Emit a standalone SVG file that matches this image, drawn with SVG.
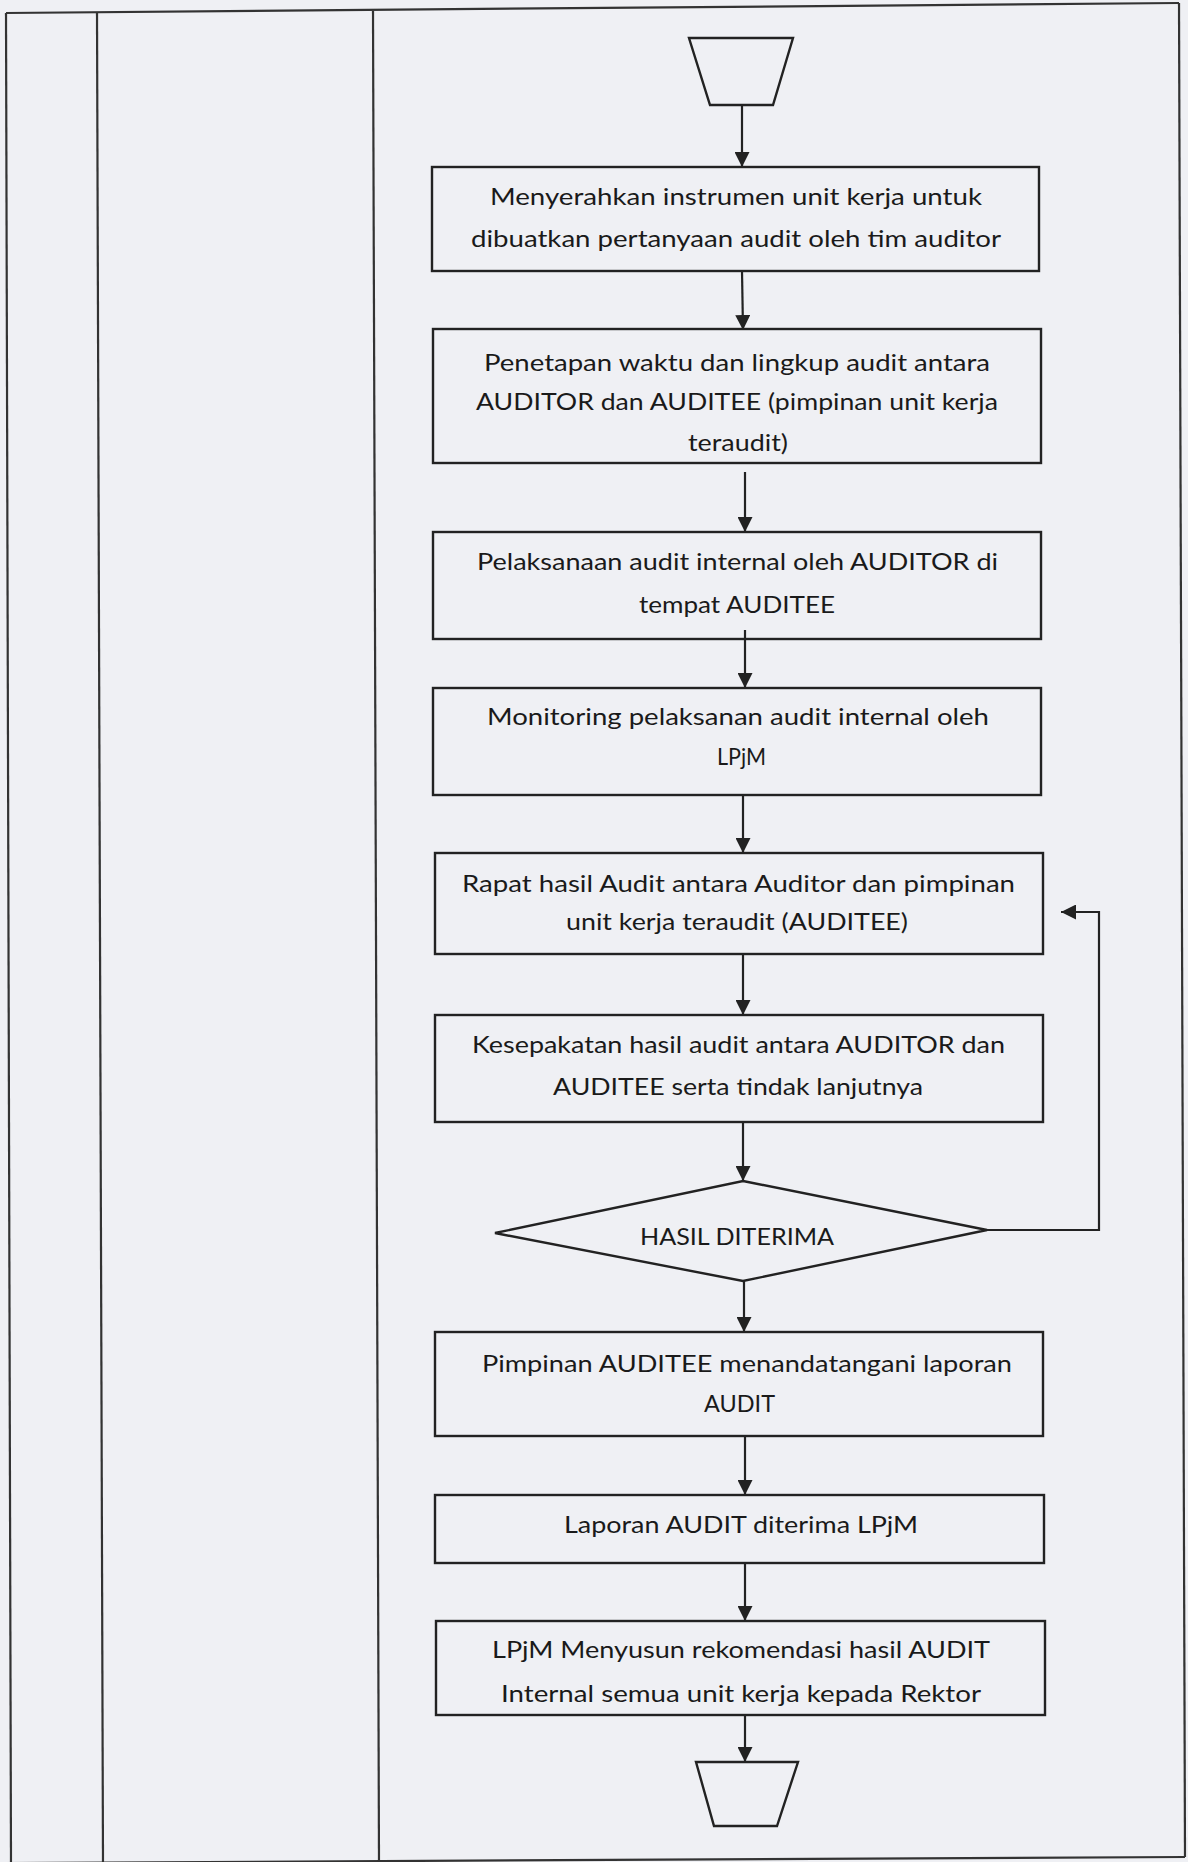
<svg xmlns="http://www.w3.org/2000/svg" width="1188" height="1862" viewBox="0 0 1188 1862">
<defs>
<style>
.bg{fill:#eff0f4}
.frame{stroke:#333;stroke-width:2.2;fill:none}
.box{fill:none;stroke:#222;stroke-width:2.4}
.conn{stroke:#222;stroke-width:2.2;fill:none}
.t{font-family:Lato,"Open Sans","Liberation Sans",sans-serif;font-size:24px;fill:#1a1a1a}
</style>
<marker id="ah" markerUnits="userSpaceOnUse" markerWidth="16" markerHeight="15" refX="15" refY="7.5" orient="auto">
<path d="M0,0 L15,7.5 L0,15 Z" fill="#222"/>
</marker>
</defs>
<rect class="bg" x="0" y="0" width="1188" height="1862"/>
<g id="frame">
<line class="frame" x1="6" y1="13" x2="1179" y2="3"/>
<line class="frame" x1="6" y1="13" x2="11" y2="1864"/>
<line class="frame" x1="97" y1="13" x2="103" y2="1864"/>
<line class="frame" x1="373" y1="11" x2="379" y2="1864"/>
<line class="frame" x1="1179" y1="3" x2="1185" y2="1857"/>
<line class="frame" x1="6" y1="1863" x2="1185" y2="1857"/>
</g>
<g id="connectors">
<line class="conn" x1="742" y1="105" x2="742" y2="167" marker-end="url(#ah)"/>
<line class="conn" x1="742" y1="271" x2="743" y2="330" marker-end="url(#ah)"/>
<line class="conn" x1="745" y1="472" x2="745" y2="532" marker-end="url(#ah)"/>
<line class="conn" x1="745" y1="630" x2="745" y2="688" marker-end="url(#ah)"/>
<line class="conn" x1="743" y1="795" x2="743" y2="853" marker-end="url(#ah)"/>
<line class="conn" x1="743" y1="954" x2="743" y2="1015" marker-end="url(#ah)"/>
<line class="conn" x1="743" y1="1122" x2="743" y2="1181" marker-end="url(#ah)"/>
<polyline class="conn" points="987,1230 1099,1230 1099,912 1061,912" marker-end="url(#ah)"/>
<line class="conn" x1="744" y1="1281" x2="744" y2="1332" marker-end="url(#ah)"/>
<line class="conn" x1="745" y1="1436" x2="745" y2="1495" marker-end="url(#ah)"/>
<line class="conn" x1="745" y1="1563" x2="745" y2="1621" marker-end="url(#ah)"/>
<line class="conn" x1="745" y1="1715" x2="745" y2="1762" marker-end="url(#ah)"/>
</g>
<g id="start">
<polygon class="box" points="689,38 793,38 773,105 710,105"/>
</g>
<g id="n1">
<rect class="box" x="432" y="167" width="607" height="104"/>
<text class="t" x="490" y="205" textLength="492" lengthAdjust="spacingAndGlyphs">Menyerahkan instrumen unit kerja untuk</text>
<text class="t" x="471" y="247" textLength="530" lengthAdjust="spacingAndGlyphs">dibuatkan pertanyaan audit oleh tim auditor</text>
</g>
<g id="n2">
<rect class="box" x="433" y="329" width="608" height="134"/>
<text class="t" x="484" y="371" textLength="506" lengthAdjust="spacingAndGlyphs">Penetapan waktu dan lingkup audit antara</text>
<text class="t" x="476" y="410" textLength="522" lengthAdjust="spacingAndGlyphs">AUDITOR dan AUDITEE (pimpinan unit kerja</text>
<text class="t" x="688" y="451" textLength="100" lengthAdjust="spacingAndGlyphs">teraudit)</text>
</g>
<g id="n3">
<rect class="box" x="433" y="532" width="608" height="107"/>
<text class="t" x="477" y="570" textLength="521" lengthAdjust="spacingAndGlyphs">Pelaksanaan audit internal oleh AUDITOR di</text>
<text class="t" x="639" y="613" textLength="196" lengthAdjust="spacingAndGlyphs">tempat AUDITEE</text>
</g>
<g id="n4">
<rect class="box" x="433" y="688" width="608" height="107"/>
<text class="t" x="487" y="725" textLength="502" lengthAdjust="spacingAndGlyphs">Monitoring pelaksanan audit internal oleh</text>
<text class="t" x="717" y="765" textLength="49" lengthAdjust="spacingAndGlyphs">LPjM</text>
</g>
<g id="n5">
<rect class="box" x="435" y="853" width="608" height="101"/>
<text class="t" x="462" y="892" textLength="553" lengthAdjust="spacingAndGlyphs">Rapat hasil Audit antara Auditor dan pimpinan</text>
<text class="t" x="566" y="930" textLength="342" lengthAdjust="spacingAndGlyphs">unit kerja teraudit (AUDITEE)</text>
</g>
<g id="n6">
<rect class="box" x="435" y="1015" width="608" height="107"/>
<text class="t" x="472" y="1053" textLength="533" lengthAdjust="spacingAndGlyphs">Kesepakatan hasil audit antara AUDITOR dan</text>
<text class="t" x="553" y="1095" textLength="370" lengthAdjust="spacingAndGlyphs">AUDITEE serta tindak lanjutnya</text>
</g>
<g id="decision">
<polygon class="box" points="743,1181 987,1230 743,1281 495,1233"/>
<text class="t" x="640" y="1245" textLength="194" lengthAdjust="spacingAndGlyphs">HASIL DITERIMA</text>
</g>
<g id="n7">
<rect class="box" x="435" y="1332" width="608" height="104"/>
<text class="t" x="482" y="1372" textLength="530" lengthAdjust="spacingAndGlyphs">Pimpinan AUDITEE menandatangani laporan</text>
<text class="t" x="704" y="1412" textLength="71" lengthAdjust="spacingAndGlyphs">AUDIT</text>
</g>
<g id="n8">
<rect class="box" x="435" y="1495" width="609" height="68"/>
<text class="t" x="564" y="1533" textLength="354" lengthAdjust="spacingAndGlyphs">Laporan AUDIT diterima LPjM</text>
</g>
<g id="n9">
<rect class="box" x="436" y="1621" width="609" height="94"/>
<text class="t" x="492" y="1658" textLength="498" lengthAdjust="spacingAndGlyphs">LPjM Menyusun rekomendasi hasil AUDIT</text>
<text class="t" x="501" y="1702" textLength="480" lengthAdjust="spacingAndGlyphs">Internal semua unit kerja kepada Rektor</text>
</g>
<g id="end">
<polygon class="box" points="696,1762 798,1762 777,1826 714,1826"/>
</g>
</svg>
